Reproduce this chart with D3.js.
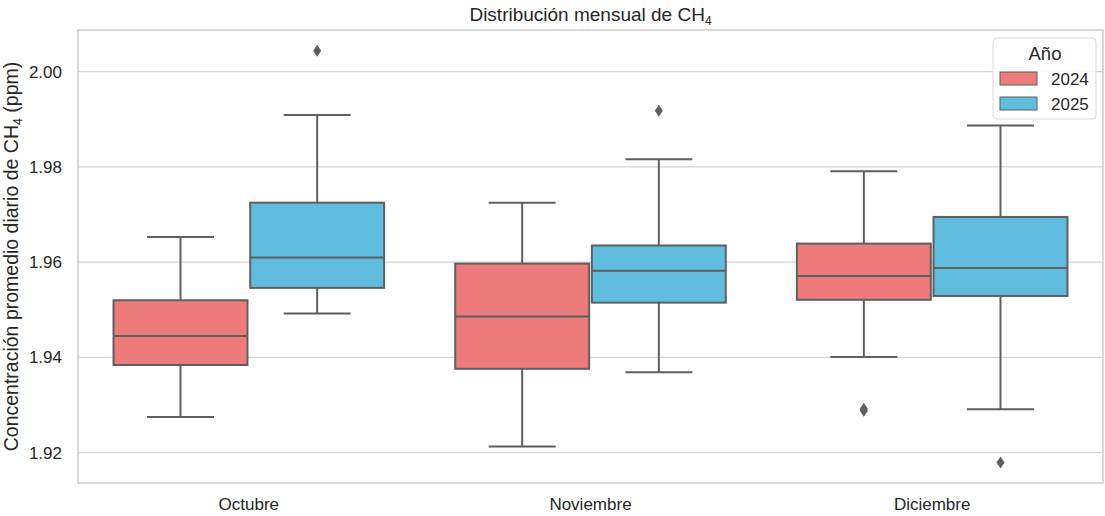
<!DOCTYPE html>
<html>
<head>
<meta charset="utf-8">
<script src="https://cdn.jsdelivr.net/npm/d3@7"></script>
<style>
  body { margin: 0; background: #fff; }
  text { font-family: "Liberation Sans", Arial, sans-serif; fill: #262626; }
</style>
</head>
<body>
<svg id="chart" width="1105" height="516"></svg>
<script>
const months = ['Octubre', 'Noviembre', 'Diciembre'];
const years = ['2024', '2025'];
const colors = ['#ED7B7B', '#61BDDF'];
const yTicks = [1.92, 1.94, 1.96, 1.98, 2.00];

// per year, per month
const whiskerLow = [[1.9275, 1.9213, 1.9401], [1.9492, 1.9369, 1.9291]];
const q1 = [[1.9384, 1.9376, 1.9521], [1.9546, 1.9515, 1.9529]];
const median = [[1.9445, 1.9486, 1.9571], [1.9610, 1.9582, 1.9588]];
const q3 = [[1.9520, 1.9597, 1.9639], [1.9725, 1.9635, 1.9695]];
const whiskerHigh = [[1.9653, 1.9725, 1.9791], [1.9909, 1.9816, 1.9887]];
const outliers = [[[], [], [1.9292, 1.9288]], [[2.0044], [1.9918], [1.9179]]];

const margin = { top: 30, right: 2, bottom: 33, left: 78 };
const W = 1105, H = 516;
const width = W - margin.left - margin.right;
const height = H - margin.top - margin.bottom;

const svg = d3.select('#chart');
const g = svg.append('g').attr('transform', `translate(${margin.left},${margin.top})`);

const x = d3.scaleBand().domain(months).range([0, width]);
const xHue = d3.scaleBand().domain(years).range([-0.4 * x.bandwidth(), 0.4 * x.bandwidth()]);
const y = d3.scaleLinear().domain([1.91362, 2.00876]).range([height, 0]);

// grid
g.selectAll('.grid').data(yTicks).join('line')
  .attr('x1', 0).attr('x2', width)
  .attr('y1', d => y(d)).attr('y2', d => y(d))
  .attr('stroke', '#d5d5d5').attr('stroke-width', 1.2);

// frame
g.append('rect').attr('x', 0).attr('y', 0).attr('width', width).attr('height', height)
  .attr('fill', 'none').attr('stroke', '#cccccc').attr('stroke-width', 1.5);

// y ticks
g.selectAll('.ytick').data(yTicks).join('text')
  .attr('x', -16).attr('y', d => y(d)).attr('dy', '0.35em')
  .attr('text-anchor', 'end').attr('font-size', 17)
  .text(d => d.toFixed(2));

// x ticks
g.selectAll('.xtick').data(months).join('text')
  .attr('x', d => x(d) + x.bandwidth() / 2).attr('y', height + 27)
  .attr('text-anchor', 'middle').attr('font-size', 17)
  .text(d => d);

const edge = '#5f5f5f';
const boxW = xHue.bandwidth() * 0.98;

years.forEach((yr, yi) => {
  months.forEach((m, mi) => {
    const cx = x(m) + x.bandwidth() / 2 + xHue(yr) + xHue.bandwidth() / 2;
    const bg = g.append('g');
    bg.append('line').attr('x1', cx).attr('x2', cx)
      .attr('y1', y(whiskerHigh[yi][mi])).attr('y2', y(q3[yi][mi]))
      .attr('stroke', edge).attr('stroke-width', 2);
    bg.append('line').attr('x1', cx).attr('x2', cx)
      .attr('y1', y(q1[yi][mi])).attr('y2', y(whiskerLow[yi][mi]))
      .attr('stroke', edge).attr('stroke-width', 2);
    [whiskerHigh[yi][mi], whiskerLow[yi][mi]].forEach(v => {
      bg.append('line').attr('x1', cx - boxW / 4).attr('x2', cx + boxW / 4)
        .attr('y1', y(v)).attr('y2', y(v))
        .attr('stroke', edge).attr('stroke-width', 2);
    });
    bg.append('rect')
      .attr('x', cx - boxW / 2).attr('width', boxW)
      .attr('y', y(q3[yi][mi])).attr('height', y(q1[yi][mi]) - y(q3[yi][mi]))
      .attr('fill', colors[yi]).attr('stroke', edge).attr('stroke-width', 2);
    bg.append('line').attr('x1', cx - boxW / 2).attr('x2', cx + boxW / 2)
      .attr('y1', y(median[yi][mi])).attr('y2', y(median[yi][mi]))
      .attr('stroke', edge).attr('stroke-width', 2);
    outliers[yi][mi].forEach(v => {
      const py = y(v);
      bg.append('path')
        .attr('d', `M${cx},${py - 6}L${cx + 4},${py}L${cx},${py + 6}L${cx - 4},${py}Z`)
        .attr('fill', edge);
    });
  });
});

// title
svg.append('text').attr('x', margin.left + width / 2).attr('y', 21)
  .attr('text-anchor', 'middle').attr('font-size', 19)
  .html('Distribución mensual de CH<tspan dy="4" font-size="12">4</tspan>');

// y label
svg.append('text')
  .attr('transform', `translate(18,${margin.top + height / 2}) rotate(-90)`)
  .attr('text-anchor', 'middle').attr('font-size', 19.5)
  .html('Concentración promedio diario de CH<tspan dy="4" font-size="12.5">4</tspan><tspan dy="-4"> (ppm)</tspan>');

// legend
const lg = svg.append('g').attr('transform', 'translate(993,38)');
lg.append('rect').attr('width', 103).attr('height', 81).attr('rx', 4)
  .attr('fill', '#fff').attr('fill-opacity', 0.85)
  .attr('stroke', '#d9d9d9').attr('stroke-width', 1);
lg.append('text').attr('x', 52).attr('y', 22).attr('text-anchor', 'middle')
  .attr('font-size', 18.5).text('Año');
years.forEach((yr, i) => {
  lg.append('rect').attr('x', 7).attr('y', 34 + i * 25).attr('width', 37).attr('height', 13)
    .attr('fill', colors[i]).attr('stroke', edge).attr('stroke-width', 1);
  lg.append('text').attr('x', 58).attr('y', 47 + i * 25)
    .attr('font-size', 17).text(yr);
});
</script>
</body>
</html>
